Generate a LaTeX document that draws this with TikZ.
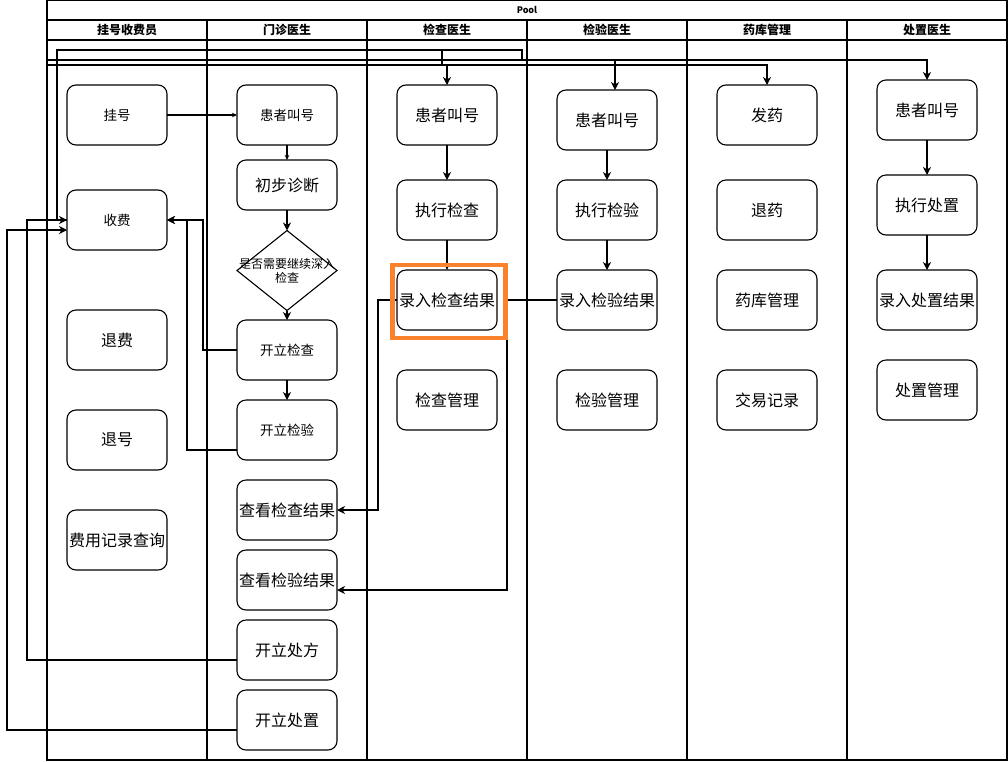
\documentclass[tikz,border=0pt]{standalone}
\usepackage{fontspec}
\setmainfont{Noto Sans CJK SC}
\usetikzlibrary{shapes.geometric, arrows.meta, positioning}
\definecolor{hiorange}{RGB}{250,130,45}

\begin{document}
\begin{tikzpicture}[x=1pt, y=-1pt,
    task/.style={rectangle, draw, rounded corners=9pt, line width=1.1pt, minimum width=100pt, minimum height=60pt, inner sep=0pt, outer sep=0pt, font=\fontsize{16pt}{19pt}\selectfont},
    tasksm/.style={task, font=\fontsize{13.5pt}{16pt}\selectfont},
    decision/.style={diamond, draw, line width=1.1pt, minimum width=100pt, minimum height=80pt, inner sep=0pt, outer sep=0pt},
    lanehead/.style={font=\bfseries\fontsize{12pt}{14pt}\selectfont},
    flow/.style={-{Stealth[length=8pt, width=8pt, inset=2.5pt]}, line width=1.1pt},
    flowsm/.style={-{Stealth[length=5pt, width=4.5pt, inset=1.5pt]}, line width=1.1pt},
    link/.style={line width=1.1pt}
]
    \useasboundingbox (0,0) rectangle (1008,761);
    % pool and lanes
    \draw[link] (47,0) rectangle (1007,760);
    \draw[link] (47,20) -- (1007,20);
    \draw[link] (47,40) -- (1007,40);
    \foreach \x in {207,367,527,687,847}
        \draw[link] (\x,20) -- (\x,760);
    \node[font=\bfseries\fontsize{9pt}{10pt}\selectfont] (pool) at (527,10) {Pool};
    \foreach \x/\t [count=\i] in {127/挂号收费员, 287/门诊医生, 447/检查医生, 607/检验医生, 767/药库管理, 927/处置医生}
        \node[lanehead] (head\i) at (\x,30) {\t};

    % 挂号收费员
    \node[tasksm] (reg) at (117,115) {挂号};
    \node[tasksm] (charge) at (117,220) {收费};
    \node[task] (refund) at (117,340) {退费};
    \node[task, below=40pt of refund] (cancel) {退号};
    \node[task, below=40pt of cancel] (feelog) {费用记录查询};

    % 门诊医生
    \node[tasksm] (call2) at (287,115) {患者叫号};
    \node[task, minimum height=50pt, below=15pt of call2] (diag) {初步诊断};
    \node[decision] (check) at (287,270.5) {};
    \node[font=\fontsize{12pt}{14pt}\selectfont, align=center] (checktext) at (check.center) {是否需要继续深入\\检查};
    \node[tasksm] (orderexam) at (287,350) {开立检查};
    \node[tasksm, below=20pt of orderexam] (orderlab) {开立检验};
    \node[task, below=20pt of orderlab] (viewexam) {查看检查结果};
    \node[task, below=10pt of viewexam] (viewlab) {查看检验结果};
    \node[task, below=10pt of viewlab] (presc) {开立处方};
    \node[task, below=10pt of presc] (ordertreat) {开立处置};

    % 检查医生
    \node[task] (call3) at (447,115) {患者叫号};
    \node[task] (doexam) at (447,210) {执行检查};
    \node[task] (enterexam) at (447,300) {录入检查结果};
    \node[task] (exammgmt) at (447,400) {检查管理};

    % 检验医生
    \node[task] (call4) at (607,120) {患者叫号};
    \node[task] (dolab) at (607,210) {执行检验};
    \node[task] (enterlab) at (607,300) {录入检验结果};
    \node[task] (labmgmt) at (607,400) {检验管理};

    % 药库管理
    \node[task] (dispense) at (767,115) {发药};
    \node[task] (returndrug) at (767,210) {退药};
    \node[task] (stock) at (767,300) {药库管理};
    \node[task] (trade) at (767,400) {交易记录};

    % 处置医生
    \node[task] (call6) at (927,110) {患者叫号};
    \node[task] (dotreat) at (927,205) {执行处置};
    \node[task] (entertreat) at (927,300) {录入处置结果};
    \node[task] (treatmgmt) at (927,390) {处置管理};

    % flows
    \draw[flowsm] (reg) -- (call2);
    \draw[flowsm] (call2) -- (diag);
    \draw[flow] (diag) -- (check);
    \draw[flow] (check) -- (orderexam);
    \draw[flow] (orderexam) -- (orderlab);
    \draw[flow] (orderexam.west) -- (203,350) -- (203,220) -- (charge.east);
    \draw[flow] ([yshift=-20pt]orderlab.west) -- (187,450) -- (187,220) -- (charge.east);
    \draw[flow] ([yshift=-10pt]presc.west) -- (27,660) -- (27,220) -- (charge.west);
    \draw[flow] ([yshift=-10pt]ordertreat.west) -- (7,730) -- (7,230) -- ([yshift=-10pt]charge.west);
    \draw[flow] (charge.west) -- (57,220) -- (57,50) -- (442,50) -- (442,65) -- (447,65) -- (call3.north);
    \draw[flow] (charge.west) -- (57,220) -- (57,50) -- (522,50) -- (522,60) -- (615,60) -- ([xshift=8pt]call4.north);
    \draw[flow] (charge.west) -- (47,220) -- (47,60) -- (927,60) -- (call6.north);
    \draw[flow] (charge.west) -- (47,220) -- (47,65) -- (767,65) -- (dispense.north);
    \draw[flow] (call3) -- (doexam);
    \draw[flowsm] (doexam) -- (enterexam);
    \draw[flow] (enterexam.west) -- (378,300) -- (378,510) -- (viewexam.east);
    \draw[flow] (enterlab.west) -- (507,300) -- (507,590) -- ([yshift=-10pt]viewlab.east);
    \draw[flow] (call4) -- (dolab);
    \draw[flow] (dolab) -- (enterlab);
    \draw[flow] (call6) -- (dotreat);
    \draw[flow] (dotreat) -- (entertreat);

    % highlight
    \draw[hiorange, line width=4.5pt] (392.5,265) rectangle (505.7,338);
\end{tikzpicture}
\end{document}
